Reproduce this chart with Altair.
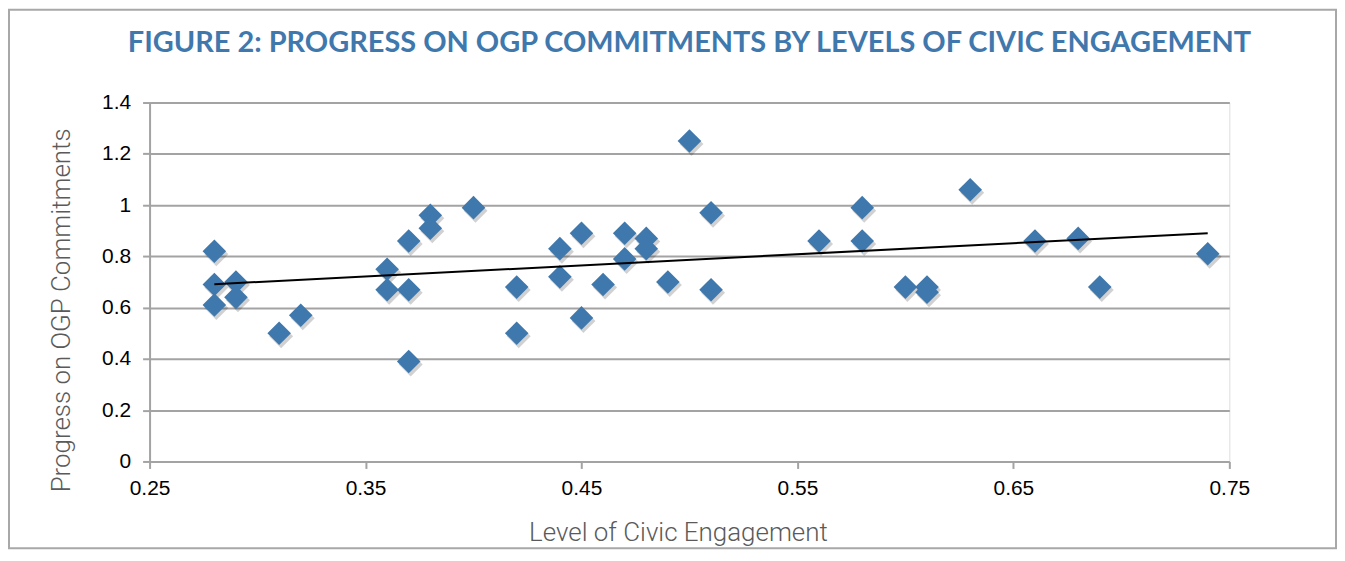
import altair as alt
import pandas as pd

engagement = [0.28, 0.28, 0.28, 0.29, 0.29, 0.31, 0.32, 0.36, 0.36, 0.37, 0.37, 0.37,
              0.38, 0.38, 0.40, 0.42, 0.42, 0.44, 0.44, 0.45, 0.45, 0.46, 0.47, 0.47,
              0.48, 0.48, 0.49, 0.50, 0.51, 0.51, 0.56, 0.58, 0.58, 0.60, 0.61, 0.61,
              0.63, 0.66, 0.68, 0.69, 0.74]
progress = [0.82, 0.69, 0.61, 0.70, 0.64, 0.50, 0.57, 0.75, 0.67, 0.86, 0.67, 0.39,
            0.96, 0.91, 0.99, 0.68, 0.50, 0.83, 0.72, 0.89, 0.56, 0.69, 0.89, 0.79,
            0.87, 0.83, 0.70, 1.25, 0.97, 0.67, 0.86, 0.99, 0.86, 0.68, 0.68, 0.66,
            1.06, 0.86, 0.87, 0.68, 0.81]
x_ticks = [0.25, 0.35, 0.45, 0.55, 0.65, 0.75]
y_ticks = [0, 0.2, 0.4, 0.6, 0.8, 1.0, 1.2, 1.4]

df = pd.DataFrame({"engagement": engagement, "progress": progress})

PW, PH = 1083, 360
BLUE = "#3f78ad"
GRID = "#a3a3a3"

x_enc = alt.X("engagement:Q",
              scale=alt.Scale(domain=[0.25, 0.75], nice=False, zero=False),
              axis=alt.Axis(values=x_ticks, format=".2f", title="Level of Civic Engagement",
                            grid=False, domain=False, tickColor=GRID, tickWidth=2, tickSize=7,
                            labelFlush=False, labelOverlap=False,
                            labelPadding=9, labelFontSize=21, labelFont="Liberation Sans",
                            labelColor="#000000",
                            titleFont="Roboto", titleFontWeight=300, titleFontSize=26,
                            titleColor="#5a5a5a", titleX=530, titleY=71,
                            titleAlign="center", titleBaseline="middle"))
y_enc = alt.Y("progress:Q",
              scale=alt.Scale(domain=[0, 1.4], nice=False),
              axis=alt.Axis(values=y_ticks, format="~g", title="Progress on OGP Commitments",
                            grid=True, gridColor=GRID, gridWidth=2, domain=True,
                            domainColor=GRID, domainWidth=2, tickColor=GRID, tickWidth=2,
                            labelFlush=False, labelOverlap=False,
                            tickSize=7, labelPadding=12, labelFontSize=21,
                            labelFont="Liberation Sans", labelColor="#000000",
                            titleFont="Roboto", titleFontWeight=300, titleFontSize=26,
                            titleColor="#5a5a5a", titleX=-88, titleY=208, titleAngle=-90,
                            titleAlign="center", titleBaseline="middle"))

base = alt.Chart(df)

shadow = base.mark_point(shape="diamond", filled=True, color="#000000", opacity=0.18,
                         size=580, xOffset=2, yOffset=3).encode(x=x_enc, y=y_enc)
points = base.mark_point(shape="diamond", filled=True, color=BLUE, opacity=1,
                         size=560).encode(x=x_enc, y=y_enc)
trend = base.transform_regression("engagement", "progress").mark_line(
    color="#000000", strokeWidth=2).encode(x="engagement:Q", y="progress:Q")

border = alt.Chart(alt.Data(values=[{}])).mark_rect(
    filled=False, stroke="#a8a8a8", strokeWidth=2).encode(
    x=alt.value(-141), x2=alt.value(PW + 107),
    y=alt.value(-93), y2=alt.value(PH + 87))

chart = alt.layer(border, shadow, points, trend).properties(
    width=PW, height=PH,
    autosize=alt.AutoSizeParams(type="none"),
    padding={"left": 142, "top": 94, "right": 108, "bottom": 89},
    title=alt.TitleParams(
        "FIGURE 2: PROGRESS ON OGP COMMITMENTS BY LEVELS OF CIVIC ENGAGEMENT",
        font="Lato", fontSize=29, fontWeight="bold", color=BLUE,
        anchor="middle", frame="group", offset=-49),
).configure_view(strokeWidth=0).configure(background="#ffffff")

chart.save("out.html", embed_options={"renderer": "svg", "actions": False})
